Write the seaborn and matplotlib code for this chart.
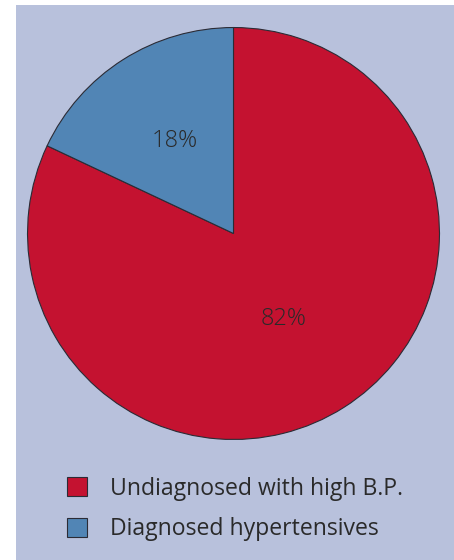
import matplotlib
matplotlib.use("Agg")
import matplotlib.pyplot as plt
import seaborn as sns
from matplotlib.patches import Rectangle

sns.set_style("white")
plt.rcParams["font.family"] = ["Open Sans", "DejaVu Sans"]

categories = ["Undiagnosed with high B.P.", "Diagnosed hypertensives"]
shares = [82, 18]
palette = sns.color_palette(["#c41230", "#5185b5"])

W, H = 454, 560
fig = plt.figure(figsize=(W / 100, H / 100), dpi=100)
fig.patch.set_facecolor("white")

# lavender panel behind everything
fig.add_artist(Rectangle((16 / W, 0), 1 - 16 / W, (H - 5) / H,
                         transform=fig.transFigure, facecolor="#b8c1dc",
                         edgecolor="none", zorder=0))

cx, cy, r = 233.5, 233.5, 207
ax = fig.add_axes([(cx - r) / W, (H - cy - r) / H, 2 * r / W, 2 * r / H])
ax.set_facecolor("none")
wedges, texts, autotexts = ax.pie(
    shares, colors=palette, startangle=90, counterclock=False,
    autopct=lambda p: f"{p:.0f}%", pctdistance=0.5,
    wedgeprops=dict(edgecolor="#2b2b35", linewidth=0.8),
    textprops=dict(color="#2a2a2a", fontsize=17, fontweight="light"),
)
# nudge the percentage labels radially (and sideways)
for t, d, dx in zip(autotexts, [0.49, 0.53], [-0.02, 0.0]):
    x, y = t.get_position()
    t.set_position((x / 0.5 * d + dx, y / 0.5 * d))
ax.set_xlim(-1.005, 1.005)
ax.set_ylim(-1.005, 1.005)
ax.axis("off")

leg = fig.legend(wedges, categories, loc="upper left",
                 bbox_to_anchor=(46 / W, 1 - 456 / H),
                 frameon=False, fontsize=16.6, handlelength=0.87,
                 handleheight=0.9, handletextpad=1.0, labelspacing=0.72,
                 labelcolor="#2a2a2a")

fig.savefig("out.png", dpi=100, facecolor=fig.get_facecolor())
